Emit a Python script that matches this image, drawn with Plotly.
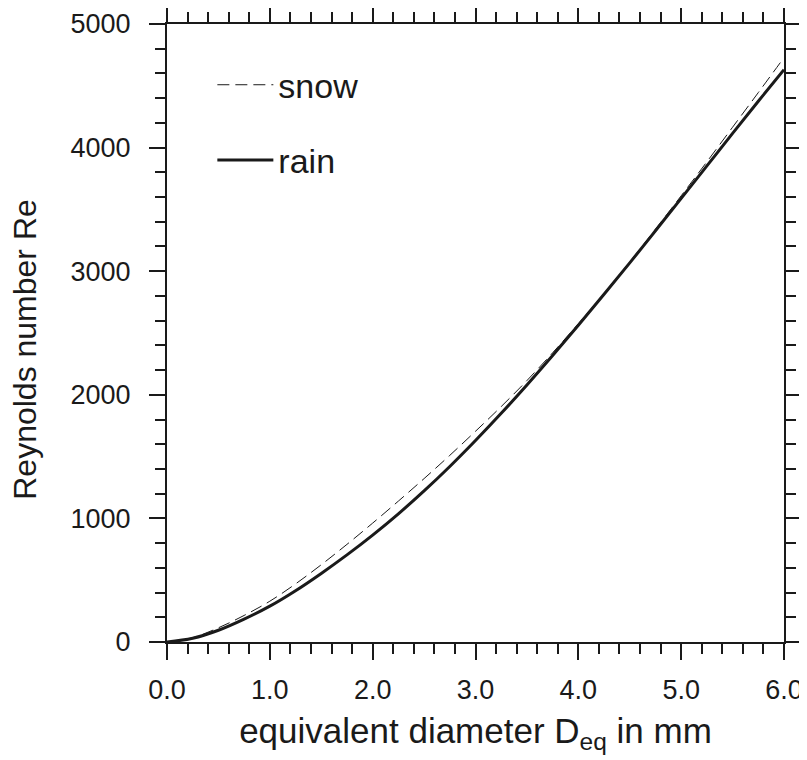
"""Reynolds number versus equivalent diameter for snow and rain."""

import plotly.graph_objects as go

# Data
diameter_mm = [0.0, 0.25, 0.5, 0.75, 1.0, 1.25, 1.5, 1.75, 2.0, 2.25, 2.5, 2.75, 3.0,
               3.25, 3.5, 3.75, 4.0, 4.25, 4.5, 4.75, 5.0, 5.25, 5.5, 5.75, 6.0]
re_snow = [0, 35, 115, 215, 330, 470, 625, 790, 962, 1140, 1322, 1510, 1705,
           1905, 2115, 2340, 2575, 2820, 3075, 3340, 3610, 3885, 4165, 4445, 4728]
re_rain = [0, 30, 95, 185, 290, 415, 555, 705, 865, 1037, 1222, 1420, 1630,
           1850, 2080, 2318, 2563, 2813, 3067, 3327, 3589, 3852, 4115, 4375, 4630]

FONT = "Liberation Sans, Arial, Helvetica, sans-serif"
INK = "#1a1a1a"

fig = go.Figure()
fig.add_trace(
    go.Scatter(
        x=diameter_mm, y=re_snow, name="snow", mode="lines", legendgroup="snow",
        line=dict(color=INK, width=1, dash="12px,6px", shape="spline"),
    )
)
fig.add_trace(
    go.Scatter(
        x=diameter_mm, y=re_rain, name="rain", mode="lines", legendgroup="rain",
        line=dict(color=INK, width=3, shape="spline"),
    )
)

axis_common = dict(
    showgrid=False, zeroline=False, showline=True, linewidth=2, linecolor=INK,
    mirror="ticks", ticks="outside", ticklen=16, tickwidth=2, tickcolor=INK,
    tickfont=dict(size=27, color=INK, family=FONT), automargin=False,
    ticklabeloverflow="allow",
)

fig.update_xaxes(
    **axis_common, range=[0, 6], dtick=1, tick0=0, tickformat=".1f",
    minor=dict(dtick=0.2, ticks="outside", ticklen=10, tickwidth=1.5, tickcolor=INK),
    title=dict(text="equivalent diameter D<sub>eq</sub> in mm", font=dict(size=35, color=INK, family=FONT), standoff=14),
    ticklabelstandoff=7,
)
fig.update_yaxes(
    **axis_common, range=[0, 5000], dtick=1000, tick0=0,
    minor=dict(dtick=200, ticks="outside", ticklen=10, tickwidth=1.5, tickcolor=INK),
    ticklabelstandoff=13,
)

# y title as an annotation, it sits a little below the middle of the axis
fig.add_annotation(
    text="Reynolds number Re", textangle=-90, showarrow=False,
    xref="paper", yref="paper", x=-0.230, y=0.473, xanchor="center", yanchor="middle",
    font=dict(size=32, color=INK, family=FONT),
)

# the page body adds an 8px margin, so the figure is shifted by that much
fig.update_layout(
    width=799, height=752,
    margin=dict(l=159, r=23, t=16, b=118),
    plot_bgcolor="white", paper_bgcolor="white",
    font=dict(family=FONT, color=INK),
    showlegend=True,
    legend=dict(
        x=0.0735, y=0.948, xanchor="left", yanchor="top",
        font=dict(size=34, color=INK, family=FONT),
        bgcolor="rgba(0,0,0,0)", itemwidth=56, tracegroupgap=28,
    ),
)

fig.write_html("out.html")
